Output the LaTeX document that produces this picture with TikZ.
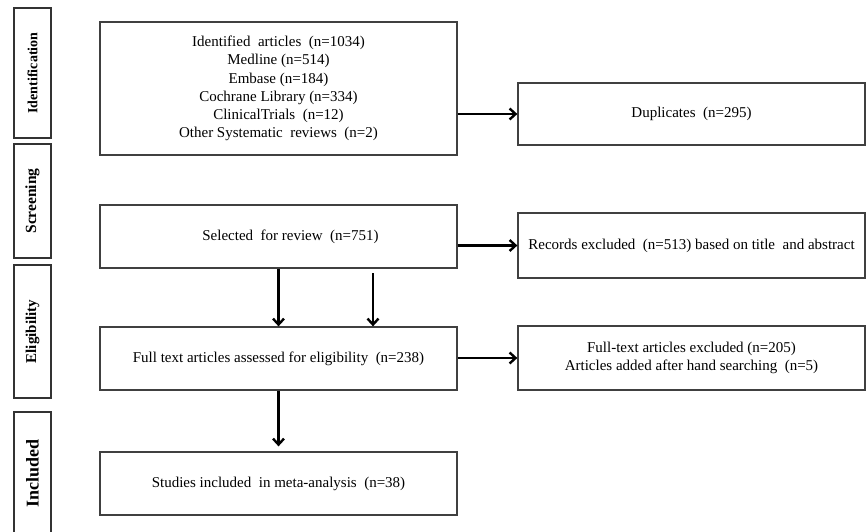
\documentclass[tikz,border=0pt]{standalone}
\usepackage{fontspec}
\setmainfont{Liberation Serif}
\usetikzlibrary{arrows.meta,positioning}

\tikzset{
  phase/.style = {draw=black!80, line width=1.3pt, minimum width=37pt, rotate=90, font=\fontsize{14}{16}\selectfont\bfseries, inner sep=0pt},
  mainbox/.style = {draw=black!75, line width=1.3pt, minimum width=357pt, align=center, font=\fontsize{15}{18.3}\selectfont, inner sep=2pt},
  sidebox/.style = {draw=black!75, line width=1.3pt, minimum width=347pt, align=center, font=\fontsize{15}{18.3}\selectfont, inner sep=2pt},
  flow/.style = {line width=2.2pt, -{Straight Barb[length=6pt,width=11pt,line width=2.4pt]}}
}

\begin{document}
\begin{tikzpicture}[x=1pt, y=-1pt]
    \useasboundingbox (0,0) rectangle (866,531);
    % phases on the left
    \node [phase, minimum height=37pt, minimum width=130pt] (ident) at (32.5,73) {Identification};
    \node [phase, minimum height=37pt, minimum width=114pt, font=\fontsize{15.5}{17}\selectfont\bfseries] (screen) at (32.5,201) {Screening};
    \node [phase, minimum height=37pt, minimum width=133pt, font=\fontsize{15}{17}\selectfont\bfseries] (elig) at (32.5,331.5) {Eligibility};
    \node [phase, minimum height=37pt, minimum width=122pt, font=\fontsize{18}{20}\selectfont\bfseries] (incl) at (32.5,473) {Included};
    % main column
    \node [mainbox, minimum height=133pt] (found) at (278.5,88.5) {Identified\ \ articles\ \ (n=1034)\\ Medline (n=514)\\ Embase (n=184)\\ Cochrane Library (n=334)\\ ClinicalTrials\ \ (n=12)\\ Other Systematic\ \ reviews\ \ (n=2)};
    \node [mainbox, minimum height=63pt] (sel) at (278.5,236.5) {\hspace*{24pt}Selected\ \ for review\ \ (n=751)};
    \node [mainbox, minimum height=63pt] (full) at (278.5,358.5) {Full text articles assessed for eligibility\ \ (n=238)};
    \node [mainbox, minimum height=63pt] (stud) at (278.5,483.5) {Studies included\ \ in meta-analysis\ \ (n=38)};
    % right column
    \node [sidebox, minimum height=62pt] (dup) at (691.5,114) {Duplicates\ \ (n=295)};
    \node [sidebox, minimum height=65pt] (rec) at (691.5,245.5) {Records excluded\ \ (n=513) based on title\ \ and abstract};
    \node [sidebox, minimum height=64pt] (fex) at (691.5,358) {Full-text articles excluded (n=205)\\ Articles added after hand searching\ \ (n=5)};
    \coordinate (extra) at (373,273);
    % arrows
    \draw [flow] (found.east |- dup.west) -- (dup.west);
    \draw [flow] (sel.east |- rec.west) -- (rec.west);
    \draw [flow] (full.east |- fex.west) -- (fex.west);
    \draw [flow] (sel.south) -- (full.north);
    \draw [flow] (extra) -- (extra |- full.north);
    \draw [flow, shorten >=5pt] (full.south) -- (stud.north);
\end{tikzpicture}
\end{document}
